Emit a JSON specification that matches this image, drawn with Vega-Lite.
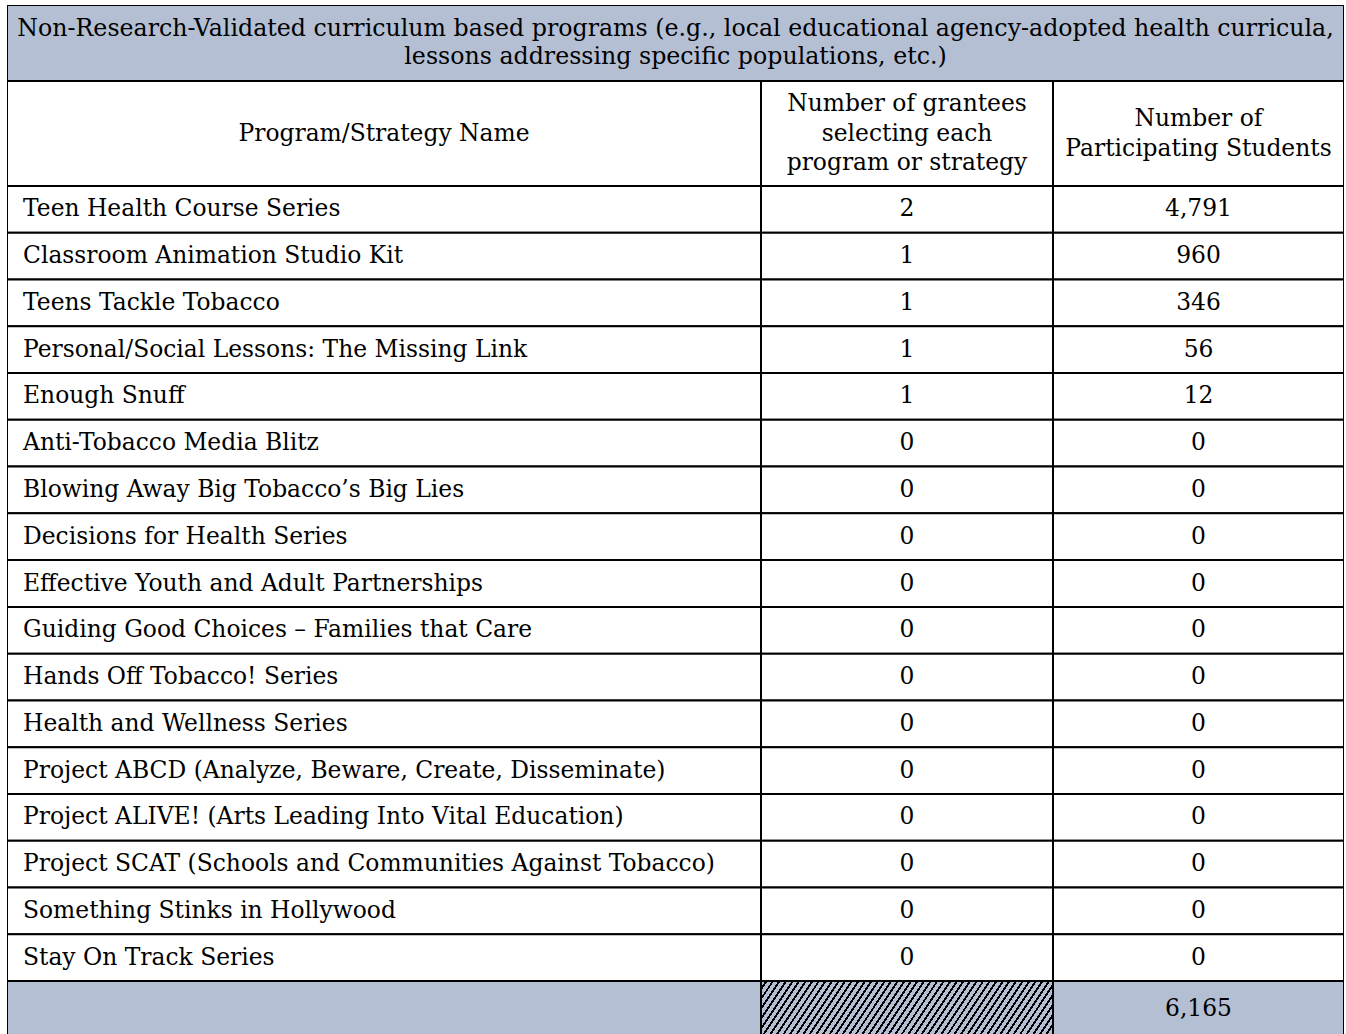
{
  "$schema": "https://vega.github.io/schema/vega-lite/v6.json",
  "padding": {"left": 7, "top": 5, "right": 0, "bottom": 0},
  "background": "white",
  "spacing": 0,
  "datasets": {
    "programs": [
      {"program": "Teen Health Course Series", "grantees": 2, "students": 4791},
      {"program": "Classroom Animation Studio Kit", "grantees": 1, "students": 960},
      {"program": "Teens Tackle Tobacco", "grantees": 1, "students": 346},
      {"program": "Personal/Social Lessons: The Missing Link", "grantees": 1, "students": 56},
      {"program": "Enough Snuff", "grantees": 1, "students": 12},
      {"program": "Anti-Tobacco Media Blitz", "grantees": 0, "students": 0},
      {"program": "Blowing Away Big Tobacco’s Big Lies", "grantees": 0, "students": 0},
      {"program": "Decisions for Health Series", "grantees": 0, "students": 0},
      {"program": "Effective Youth and Adult Partnerships", "grantees": 0, "students": 0},
      {"program": "Guiding Good Choices – Families that Care", "grantees": 0, "students": 0},
      {"program": "Hands Off Tobacco! Series", "grantees": 0, "students": 0},
      {"program": "Health and Wellness Series", "grantees": 0, "students": 0},
      {"program": "Project ABCD (Analyze, Beware, Create, Disseminate)", "grantees": 0, "students": 0},
      {"program": "Project ALIVE! (Arts Leading Into Vital Education)", "grantees": 0, "students": 0},
      {"program": "Project SCAT (Schools and Communities Against Tobacco)", "grantees": 0, "students": 0},
      {"program": "Something Stinks in Hollywood", "grantees": 0, "students": 0},
      {"program": "Stay On Track Series", "grantees": 0, "students": 0}
    ]
  },
  "config": {
    "view": {"stroke": null},
    "concat": {"spacing": 0},
    "text": {"font": "DejaVu Serif", "fontSize": 23.4, "color": "#000", "clip": true}
  },
  "vconcat": [
    {
      "width": 1337,
      "height": 76,
      "data": {"values": [{"t": "Non-Research-Validated curriculum based programs (e.g., local educational agency-adopted health curricula,\nlessons addressing specific populations, etc.)"}]},
      "layer": [
        {"mark": {"type": "rect", "fill": "#b4bfd4", "stroke": "#000", "strokeWidth": 2, "clip": true}, "encoding": {}},
        {
          "mark": {"type": "text", "lineBreak": "\n", "lineHeight": 28, "align": "center", "baseline": "middle", "fontSize": 23.7, "dy": -14},
          "encoding": {"text": {"field": "t", "type": "nominal"}}
        }
      ]
    },
    {
      "spacing": 0,
      "hconcat": [
        {
          "width": 754, "height": 105,
          "data": {"values": [{"t": "Program/Strategy Name"}]},
          "layer": [
            {"mark": {"type": "rect", "fill": "white", "stroke": "#000", "strokeWidth": 2, "clip": true}, "encoding": {}},
            {"mark": {"type": "text", "align": "center", "baseline": "middle"}, "encoding": {"text": {"field": "t", "type": "nominal"}}}
          ]
        },
        {
          "width": 292, "height": 105,
          "data": {"values": [{"t": "Number of grantees\nselecting each\nprogram or strategy"}]},
          "layer": [
            {"mark": {"type": "rect", "fill": "white", "stroke": "#000", "strokeWidth": 2, "clip": true}, "encoding": {}},
            {"mark": {"type": "text", "lineBreak": "\n", "lineHeight": 29.5, "align": "center", "baseline": "middle", "dy": -29.5}, "encoding": {"text": {"field": "t", "type": "nominal"}}}
          ]
        },
        {
          "width": 291, "height": 105,
          "data": {"values": [{"t": "Number of\nParticipating Students"}]},
          "layer": [
            {"mark": {"type": "rect", "fill": "white", "stroke": "#000", "strokeWidth": 2, "clip": true}, "encoding": {}},
            {"mark": {"type": "text", "lineBreak": "\n", "lineHeight": 30, "align": "center", "baseline": "middle", "dy": -15}, "encoding": {"text": {"field": "t", "type": "nominal"}}}
          ]
        }
      ]
    },
    {
      "spacing": 0,
      "hconcat": [
        {
          "width": 754, "height": 795,
          "data": {"name": "programs"},
          "layer": [
            {
              "mark": {"type": "rect", "fill": "white", "stroke": "#000", "strokeWidth": 2, "clip": true},
              "encoding": {"y": {"field": "program", "type": "nominal", "sort": null, "axis": null, "scale": {"paddingInner": 0, "paddingOuter": 0}}}
            },
            {
              "mark": {"type": "text", "align": "left", "baseline": "middle", "dx": 16},
              "encoding": {
                "y": {"field": "program", "type": "nominal", "sort": null, "axis": null},
                "x": {"value": 0},
                "text": {"field": "program", "type": "nominal"}
              }
            }
          ]
        },
        {
          "width": 292, "height": 795,
          "data": {"name": "programs"},
          "layer": [
            {
              "mark": {"type": "rect", "fill": "white", "stroke": "#000", "strokeWidth": 2, "clip": true},
              "encoding": {"y": {"field": "program", "type": "nominal", "sort": null, "axis": null, "scale": {"paddingInner": 0, "paddingOuter": 0}}}
            },
            {
              "mark": {"type": "text", "align": "center", "baseline": "middle"},
              "encoding": {
                "y": {"field": "program", "type": "nominal", "sort": null, "axis": null},
                "text": {"field": "grantees", "type": "quantitative", "format": ","}
              }
            }
          ]
        },
        {
          "width": 291, "height": 795,
          "data": {"name": "programs"},
          "layer": [
            {
              "mark": {"type": "rect", "fill": "white", "stroke": "#000", "strokeWidth": 2, "clip": true},
              "encoding": {"y": {"field": "program", "type": "nominal", "sort": null, "axis": null, "scale": {"paddingInner": 0, "paddingOuter": 0}}}
            },
            {
              "mark": {"type": "text", "align": "center", "baseline": "middle"},
              "encoding": {
                "y": {"field": "program", "type": "nominal", "sort": null, "axis": null},
                "text": {"field": "students", "type": "quantitative", "format": ","}
              }
            }
          ]
        }
      ]
    },
    {
      "spacing": 0,
      "hconcat": [
        {
          "width": 754, "height": 55,
          "data": {"values": [{"t": ""}]},
          "mark": {"type": "rect", "fill": "#b4bfd4", "stroke": "#000", "strokeWidth": 2, "clip": true},
          "encoding": {}
        },
        {
          "width": 292, "height": 55,
          "data": {"values": [{"t": ""}]},
          "mark": {
            "type": "rect",
            "stroke": "#000",
            "strokeWidth": 2,
            "clip": true,
            "fill": {
              "gradient": "linear",
              "x1": 0, "y1": 0, "x2": 1.1081, "y2": 0.13914,
              "stops": [
                {"offset": 0, "color": "#b4bfd4"}, {"offset": 0.013, "color": "#b4bfd4"}, {"offset": 0.013, "color": "#000"}, {"offset": 0.02, "color": "#000"},
                {"offset": 0.02, "color": "#b4bfd4"}, {"offset": 0.033, "color": "#b4bfd4"}, {"offset": 0.033, "color": "#000"}, {"offset": 0.04, "color": "#000"},
                {"offset": 0.04, "color": "#b4bfd4"}, {"offset": 0.053, "color": "#b4bfd4"}, {"offset": 0.053, "color": "#000"}, {"offset": 0.06, "color": "#000"},
                {"offset": 0.06, "color": "#b4bfd4"}, {"offset": 0.073, "color": "#b4bfd4"}, {"offset": 0.073, "color": "#000"}, {"offset": 0.08, "color": "#000"},
                {"offset": 0.08, "color": "#b4bfd4"}, {"offset": 0.093, "color": "#b4bfd4"}, {"offset": 0.093, "color": "#000"}, {"offset": 0.1, "color": "#000"},
                {"offset": 0.1, "color": "#b4bfd4"}, {"offset": 0.113, "color": "#b4bfd4"}, {"offset": 0.113, "color": "#000"}, {"offset": 0.12, "color": "#000"},
                {"offset": 0.12, "color": "#b4bfd4"}, {"offset": 0.133, "color": "#b4bfd4"}, {"offset": 0.133, "color": "#000"}, {"offset": 0.14, "color": "#000"},
                {"offset": 0.14, "color": "#b4bfd4"}, {"offset": 0.153, "color": "#b4bfd4"}, {"offset": 0.153, "color": "#000"}, {"offset": 0.16, "color": "#000"},
                {"offset": 0.16, "color": "#b4bfd4"}, {"offset": 0.173, "color": "#b4bfd4"}, {"offset": 0.173, "color": "#000"}, {"offset": 0.18, "color": "#000"},
                {"offset": 0.18, "color": "#b4bfd4"}, {"offset": 0.193, "color": "#b4bfd4"}, {"offset": 0.193, "color": "#000"}, {"offset": 0.2, "color": "#000"},
                {"offset": 0.2, "color": "#b4bfd4"}, {"offset": 0.213, "color": "#b4bfd4"}, {"offset": 0.213, "color": "#000"}, {"offset": 0.22, "color": "#000"},
                {"offset": 0.22, "color": "#b4bfd4"}, {"offset": 0.233, "color": "#b4bfd4"}, {"offset": 0.233, "color": "#000"}, {"offset": 0.24, "color": "#000"},
                {"offset": 0.24, "color": "#b4bfd4"}, {"offset": 0.253, "color": "#b4bfd4"}, {"offset": 0.253, "color": "#000"}, {"offset": 0.26, "color": "#000"},
                {"offset": 0.26, "color": "#b4bfd4"}, {"offset": 0.273, "color": "#b4bfd4"}, {"offset": 0.273, "color": "#000"}, {"offset": 0.28, "color": "#000"},
                {"offset": 0.28, "color": "#b4bfd4"}, {"offset": 0.293, "color": "#b4bfd4"}, {"offset": 0.293, "color": "#000"}, {"offset": 0.3, "color": "#000"},
                {"offset": 0.3, "color": "#b4bfd4"}, {"offset": 0.313, "color": "#b4bfd4"}, {"offset": 0.313, "color": "#000"}, {"offset": 0.32, "color": "#000"},
                {"offset": 0.32, "color": "#b4bfd4"}, {"offset": 0.333, "color": "#b4bfd4"}, {"offset": 0.333, "color": "#000"}, {"offset": 0.34, "color": "#000"},
                {"offset": 0.34, "color": "#b4bfd4"}, {"offset": 0.353, "color": "#b4bfd4"}, {"offset": 0.353, "color": "#000"}, {"offset": 0.36, "color": "#000"},
                {"offset": 0.36, "color": "#b4bfd4"}, {"offset": 0.373, "color": "#b4bfd4"}, {"offset": 0.373, "color": "#000"}, {"offset": 0.38, "color": "#000"},
                {"offset": 0.38, "color": "#b4bfd4"}, {"offset": 0.393, "color": "#b4bfd4"}, {"offset": 0.393, "color": "#000"}, {"offset": 0.4, "color": "#000"},
                {"offset": 0.4, "color": "#b4bfd4"}, {"offset": 0.413, "color": "#b4bfd4"}, {"offset": 0.413, "color": "#000"}, {"offset": 0.42, "color": "#000"},
                {"offset": 0.42, "color": "#b4bfd4"}, {"offset": 0.433, "color": "#b4bfd4"}, {"offset": 0.433, "color": "#000"}, {"offset": 0.44, "color": "#000"},
                {"offset": 0.44, "color": "#b4bfd4"}, {"offset": 0.453, "color": "#b4bfd4"}, {"offset": 0.453, "color": "#000"}, {"offset": 0.46, "color": "#000"},
                {"offset": 0.46, "color": "#b4bfd4"}, {"offset": 0.473, "color": "#b4bfd4"}, {"offset": 0.473, "color": "#000"}, {"offset": 0.48, "color": "#000"},
                {"offset": 0.48, "color": "#b4bfd4"}, {"offset": 0.493, "color": "#b4bfd4"}, {"offset": 0.493, "color": "#000"}, {"offset": 0.5, "color": "#000"},
                {"offset": 0.5, "color": "#b4bfd4"}, {"offset": 0.513, "color": "#b4bfd4"}, {"offset": 0.513, "color": "#000"}, {"offset": 0.52, "color": "#000"},
                {"offset": 0.52, "color": "#b4bfd4"}, {"offset": 0.533, "color": "#b4bfd4"}, {"offset": 0.533, "color": "#000"}, {"offset": 0.54, "color": "#000"},
                {"offset": 0.54, "color": "#b4bfd4"}, {"offset": 0.553, "color": "#b4bfd4"}, {"offset": 0.553, "color": "#000"}, {"offset": 0.56, "color": "#000"},
                {"offset": 0.56, "color": "#b4bfd4"}, {"offset": 0.573, "color": "#b4bfd4"}, {"offset": 0.573, "color": "#000"}, {"offset": 0.58, "color": "#000"},
                {"offset": 0.58, "color": "#b4bfd4"}, {"offset": 0.593, "color": "#b4bfd4"}, {"offset": 0.593, "color": "#000"}, {"offset": 0.6, "color": "#000"},
                {"offset": 0.6, "color": "#b4bfd4"}, {"offset": 0.613, "color": "#b4bfd4"}, {"offset": 0.613, "color": "#000"}, {"offset": 0.62, "color": "#000"},
                {"offset": 0.62, "color": "#b4bfd4"}, {"offset": 0.633, "color": "#b4bfd4"}, {"offset": 0.633, "color": "#000"}, {"offset": 0.64, "color": "#000"},
                {"offset": 0.64, "color": "#b4bfd4"}, {"offset": 0.653, "color": "#b4bfd4"}, {"offset": 0.653, "color": "#000"}, {"offset": 0.66, "color": "#000"},
                {"offset": 0.66, "color": "#b4bfd4"}, {"offset": 0.673, "color": "#b4bfd4"}, {"offset": 0.673, "color": "#000"}, {"offset": 0.68, "color": "#000"},
                {"offset": 0.68, "color": "#b4bfd4"}, {"offset": 0.693, "color": "#b4bfd4"}, {"offset": 0.693, "color": "#000"}, {"offset": 0.7, "color": "#000"},
                {"offset": 0.7, "color": "#b4bfd4"}, {"offset": 0.713, "color": "#b4bfd4"}, {"offset": 0.713, "color": "#000"}, {"offset": 0.72, "color": "#000"},
                {"offset": 0.72, "color": "#b4bfd4"}, {"offset": 0.733, "color": "#b4bfd4"}, {"offset": 0.733, "color": "#000"}, {"offset": 0.74, "color": "#000"},
                {"offset": 0.74, "color": "#b4bfd4"}, {"offset": 0.753, "color": "#b4bfd4"}, {"offset": 0.753, "color": "#000"}, {"offset": 0.76, "color": "#000"},
                {"offset": 0.76, "color": "#b4bfd4"}, {"offset": 0.773, "color": "#b4bfd4"}, {"offset": 0.773, "color": "#000"}, {"offset": 0.78, "color": "#000"},
                {"offset": 0.78, "color": "#b4bfd4"}, {"offset": 0.793, "color": "#b4bfd4"}, {"offset": 0.793, "color": "#000"}, {"offset": 0.8, "color": "#000"},
                {"offset": 0.8, "color": "#b4bfd4"}, {"offset": 0.813, "color": "#b4bfd4"}, {"offset": 0.813, "color": "#000"}, {"offset": 0.82, "color": "#000"},
                {"offset": 0.82, "color": "#b4bfd4"}, {"offset": 0.833, "color": "#b4bfd4"}, {"offset": 0.833, "color": "#000"}, {"offset": 0.84, "color": "#000"},
                {"offset": 0.84, "color": "#b4bfd4"}, {"offset": 0.853, "color": "#b4bfd4"}, {"offset": 0.853, "color": "#000"}, {"offset": 0.86, "color": "#000"},
                {"offset": 0.86, "color": "#b4bfd4"}, {"offset": 0.873, "color": "#b4bfd4"}, {"offset": 0.873, "color": "#000"}, {"offset": 0.88, "color": "#000"},
                {"offset": 0.88, "color": "#b4bfd4"}, {"offset": 0.893, "color": "#b4bfd4"}, {"offset": 0.893, "color": "#000"}, {"offset": 0.9, "color": "#000"},
                {"offset": 0.9, "color": "#b4bfd4"}, {"offset": 0.913, "color": "#b4bfd4"}, {"offset": 0.913, "color": "#000"}, {"offset": 0.92, "color": "#000"},
                {"offset": 0.92, "color": "#b4bfd4"}, {"offset": 0.933, "color": "#b4bfd4"}, {"offset": 0.933, "color": "#000"}, {"offset": 0.94, "color": "#000"},
                {"offset": 0.94, "color": "#b4bfd4"}, {"offset": 0.953, "color": "#b4bfd4"}, {"offset": 0.953, "color": "#000"}, {"offset": 0.96, "color": "#000"},
                {"offset": 0.96, "color": "#b4bfd4"}, {"offset": 0.973, "color": "#b4bfd4"}, {"offset": 0.973, "color": "#000"}, {"offset": 0.98, "color": "#000"},
                {"offset": 0.98, "color": "#b4bfd4"}, {"offset": 0.993, "color": "#b4bfd4"}, {"offset": 0.993, "color": "#000"}, {"offset": 1, "color": "#000"}
              ]
            }
          },
          "encoding": {}
        },
        {
          "width": 291, "height": 55,
          "data": {"name": "programs"},
          "layer": [
            {"mark": {"type": "rect", "fill": "#b4bfd4", "stroke": "#000", "strokeWidth": 2, "clip": true}, "encoding": {}},
            {
              "mark": {"type": "text", "align": "center", "baseline": "middle"},
              "encoding": {"text": {"aggregate": "sum", "field": "students", "type": "quantitative", "format": ","}}
            }
          ]
        }
      ]
    }
  ]
}
